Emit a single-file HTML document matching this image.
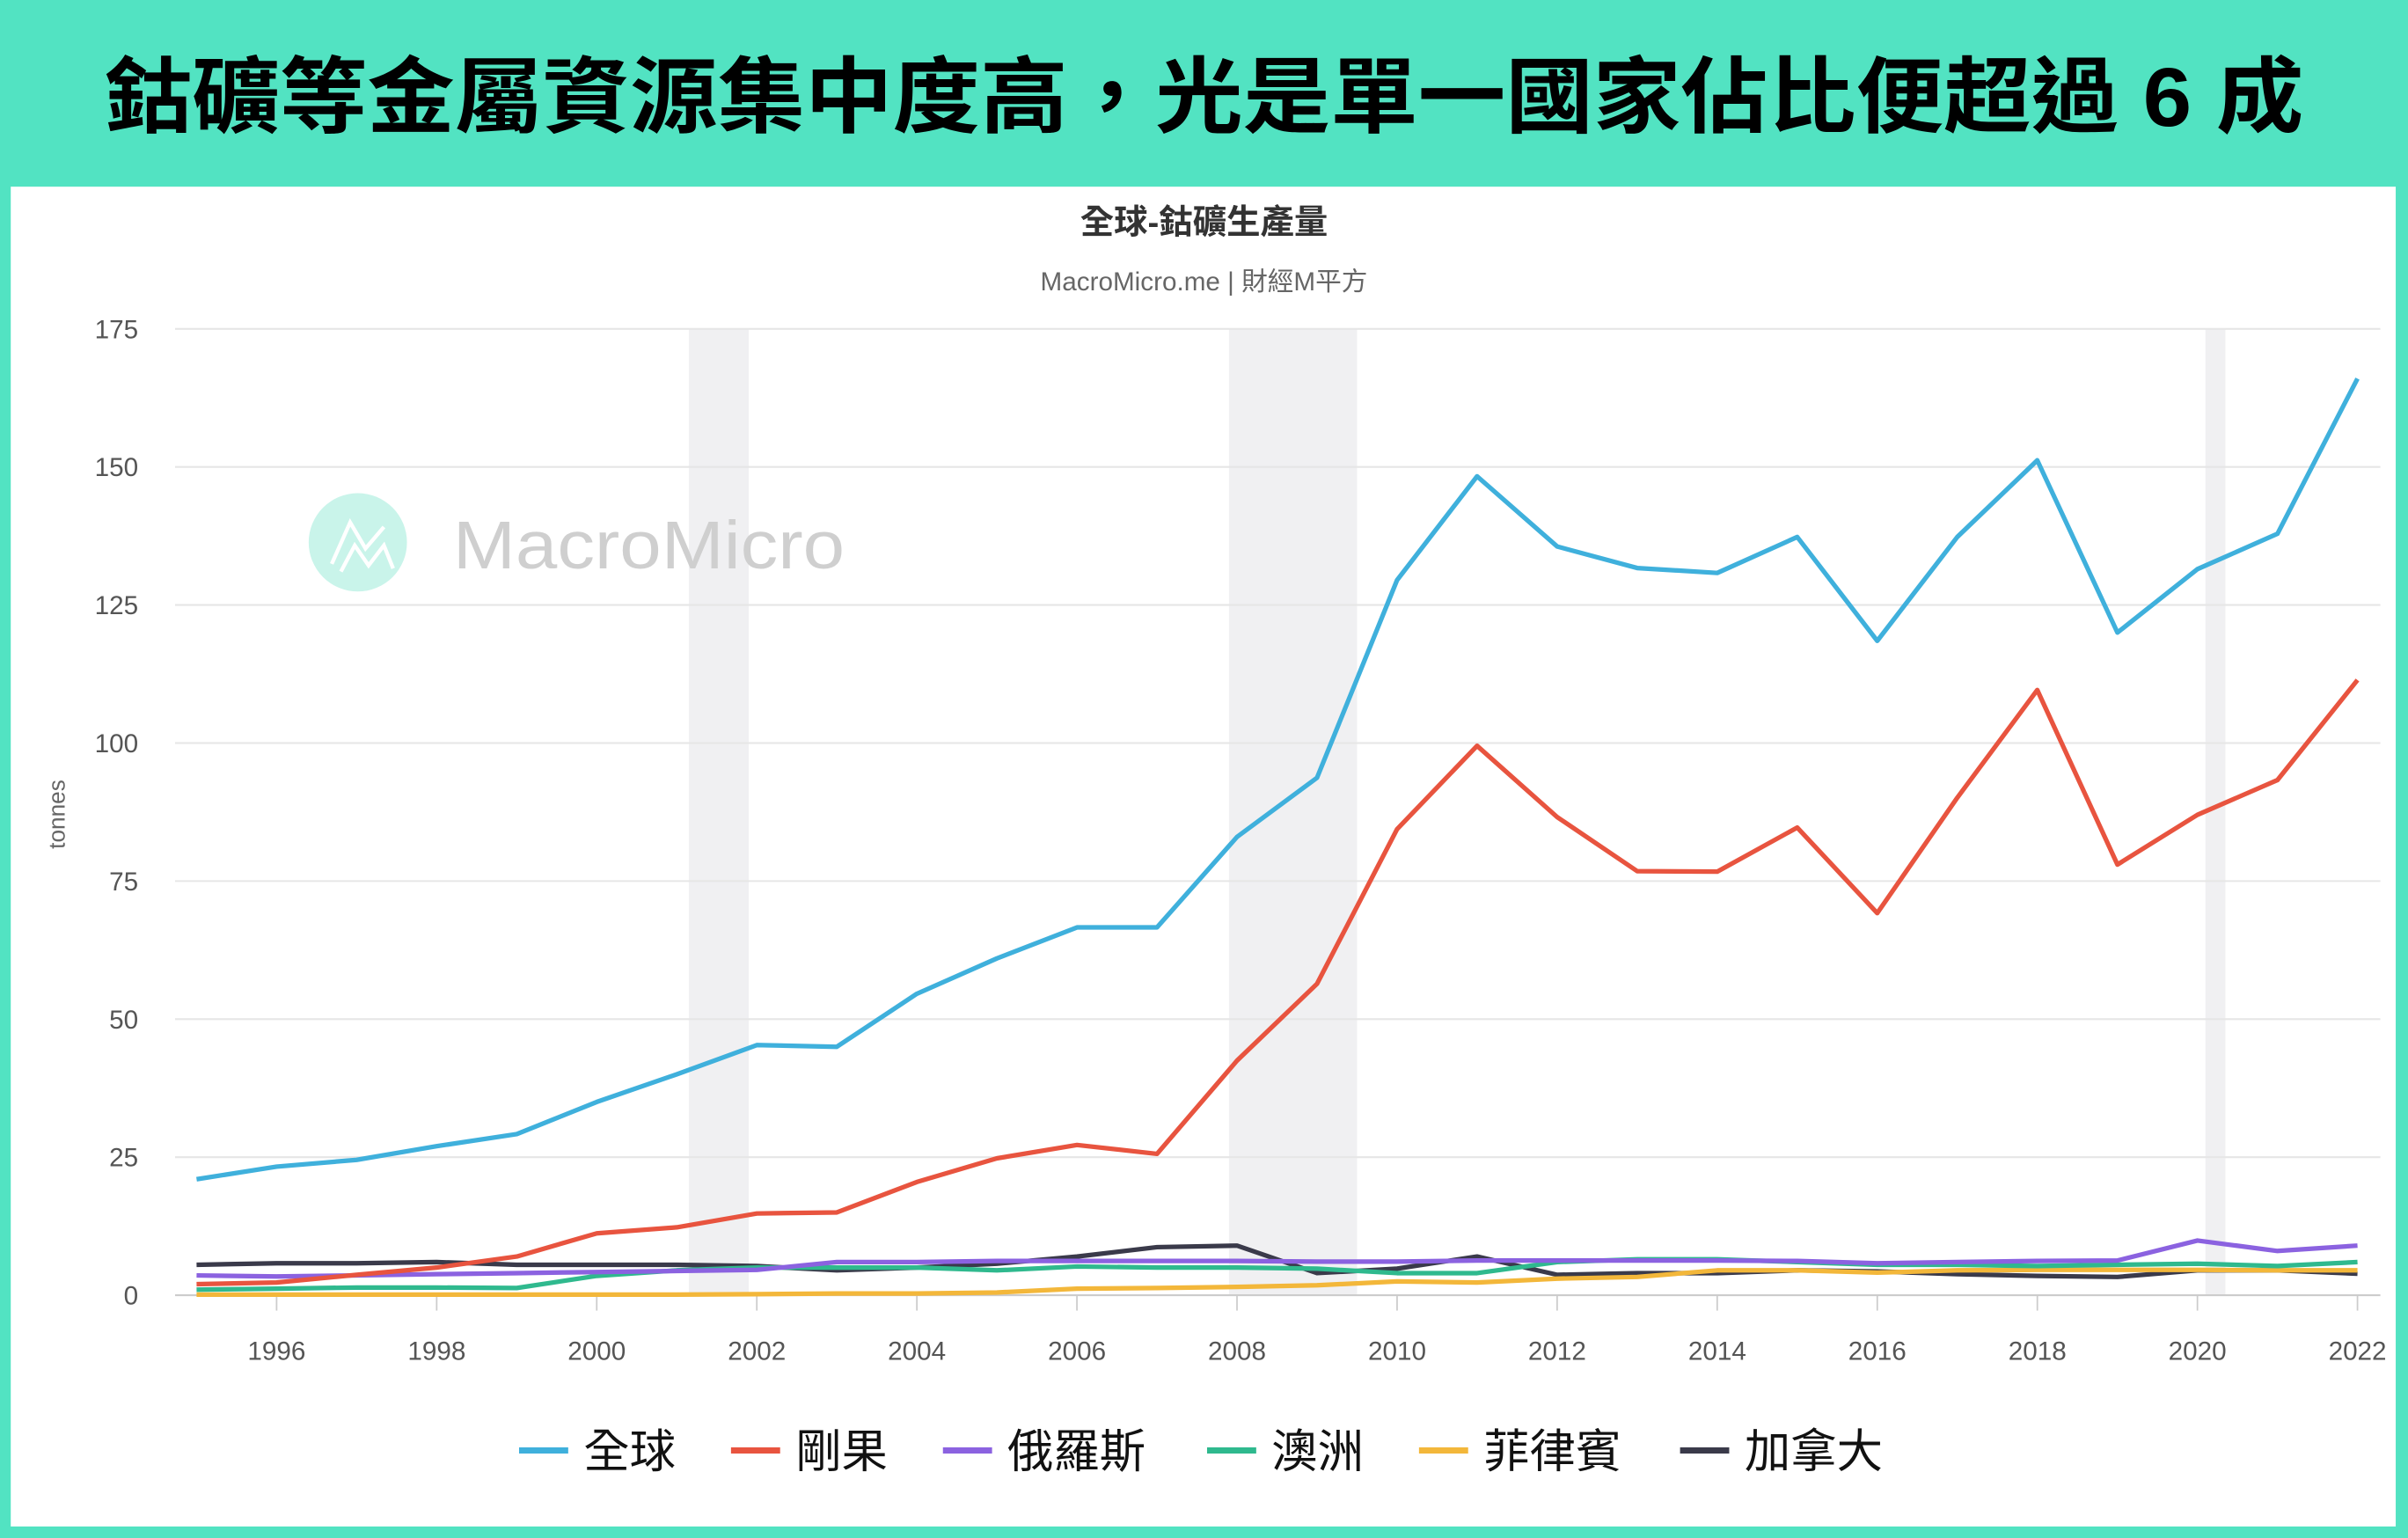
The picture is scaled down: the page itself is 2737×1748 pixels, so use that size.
<!DOCTYPE html>
<html><head><meta charset="utf-8">
<style>
html,body{margin:0;padding:0;background:#52e3c2;}
svg{display:block}
</style></head>
<body>
<svg id="s" width="2737" height="1748" viewBox="0 0 1568 1001" preserveAspectRatio="none" xmlns="http://www.w3.org/2000/svg" font-family="Liberation Sans, Noto Sans CJK TC, sans-serif">
<rect x="0" y="0" width="1568" height="1001" fill="#52e3c2"/>
<rect x="7" y="121.5" width="1553" height="872" fill="#ffffff"/>
<text x="68" y="82" textLength="1432" lengthAdjust="spacingAndGlyphs" font-size="54" font-weight="bold" fill="#000" font-family="Liberation Sans, Noto Sans CJK TC, sans-serif">鈷礦等金屬資源集中度高，光是單一國家佔比便超過 6 成</text>
<text x="784" y="152" text-anchor="middle" font-size="22" font-weight="bold" fill="#333">全球-鈷礦生產量</text>
<text x="784" y="189" text-anchor="middle" font-size="17" fill="#666">MacroMicro.me | 財經M平方</text>
<g id="bands"></g>
<g id="grid"></g>
<circle cx="233" cy="353" r="32" fill="#c9f4ea"/>
<polyline points="216,367 228,340 238,357 250,343" fill="none" stroke="#fff" stroke-width="2.5"/>
<polyline points="222,372 231,355 240,368 250,355 256,370" fill="none" stroke="#fff" stroke-width="2.5"/>
<text x="295" y="370" textLength="255" lengthAdjust="spacingAndGlyphs" font-size="44" fill="#cfcfcf">MacroMicro</text>
<text transform="translate(42,530) rotate(-90)" text-anchor="middle" font-size="15" fill="#666">tonnes</text>
<g id="series"></g>
<g id="legend" font-size="30" fill="#000"></g>
</svg>
<script>
var NS="http://www.w3.org/2000/svg";
function el(tag,attrs,parent,txt){var e=document.createElementNS(NS,tag);for(var k in attrs)e.setAttribute(k,attrs[k]);if(txt!==undefined)e.textContent=txt;parent.appendChild(e);return e;}
function X(y){return 128+(y-1995)*52.115;}
function Y(v){return 843-v*3.594;}
var bands=document.getElementById('bands');
[[2001.15,2001.9],[2007.9,2009.5],[2020.1,2020.35]].forEach(function(b){el('rect',{x:X(b[0]),y:214,width:X(b[1])-X(b[0]),height:629,fill:'#f0f0f2'},bands);});
var g=document.getElementById('grid');
for(var v=0;v<=175;v+=25){el('line',{x1:114,x2:1550,y1:Y(v),y2:Y(v),stroke:v==0?'#ccc':'#e6e6e6','stroke-width':1.2},g);
el('text',{x:90,y:Y(v)+6,'text-anchor':'end','font-size':17,fill:'#555'},g,String(v));}
for(var yr=1996;yr<=2022;yr+=2){el('line',{x1:X(yr),x2:X(yr),y1:843,y2:853,stroke:'#ccc','stroke-width':1},g);
el('text',{x:X(yr),y:885,'text-anchor':'middle','font-size':17,fill:'#555'},g,String(yr));}
var data=[
['#3fb0dc','全球',[21,23.3,24.5,27,29.2,35,40,45.3,45,54.6,61,66.6,66.6,83,93.7,129.5,148.3,135.6,131.7,130.8,137.3,118.5,137.3,151.2,120,131.5,137.9,166]],
['#e8543f','剛果',[2,2.3,3.7,5,7,11.2,12.3,14.8,15,20.5,24.8,27.2,25.6,42.5,56.4,84.4,99.5,86.6,76.8,76.7,84.7,69.2,90.1,109.6,78,87,93.3,111.4]],
['#8b62e0','俄羅斯',[3.6,3.4,3.6,3.8,4,4.2,4.4,4.6,6,6,6.2,6.2,6.2,6.2,6.1,6.1,6.3,6.3,6.3,6.3,6.2,5.8,6,6.2,6.3,9.9,8,9]],
['#2fb98e','澳洲',[1,1.2,1.4,1.4,1.3,3.5,4.5,5,5,5,4.5,5.2,5,5,4.8,4,4,6,6.5,6.5,6,5.5,5.5,5.3,5.5,5.7,5.3,6]],
['#f3b73a','菲律賓',[0.1,0.1,0.1,0.1,0.1,0.1,0.1,0.2,0.3,0.3,0.5,1.2,1.3,1.5,1.8,2.5,2.3,3,3.3,4.5,4.5,4.1,4.5,4.6,4.6,4.6,4.5,4.5]],
['#3a3a4a','加拿大',[5.5,5.8,5.8,6,5.5,5.5,5.5,5.3,4.5,5,5.7,7,8.7,9,4,4.8,7,3.7,4,4,4.5,4.3,3.8,3.5,3.3,4.5,4.5,3.9]]
];
var s=document.getElementById('series');
for(var i=data.length-1;i>=0;i--){var d=data[i];var pts=d[2].map(function(v,j){return X(1995+j).toFixed(1)+','+Y(v).toFixed(1);}).join(' ');
el('polyline',{points:pts,fill:'none',stroke:d[0],'stroke-width':3,'stroke-linejoin':'round'},s);}
var lg=document.getElementById('legend');
var lx=[338,476,614,786,924,1094];
data.forEach(function(d,i){el('line',{x1:lx[i],x2:lx[i]+32,y1:944,y2:944,stroke:d[0],'stroke-width':4},lg);
el('text',{x:lx[i]+42,y:955,'font-size':30,fill:'#111'},lg,d[1]);});
</script>
</body></html>
